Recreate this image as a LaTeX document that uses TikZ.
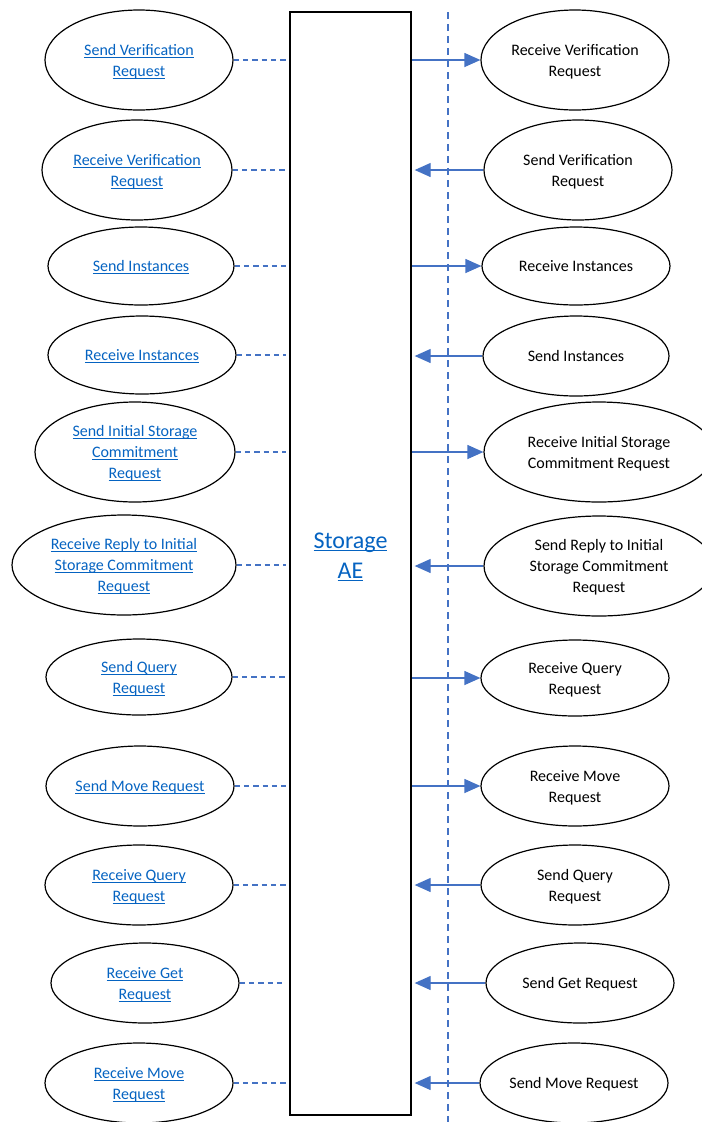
\documentclass[tikz,border=0pt]{standalone}
\usepackage{fontspec}
\setmainfont{Carlito}
\usetikzlibrary{shapes.geometric,arrows.meta}
\definecolor{lnk}{HTML}{0563C1}
\definecolor{acc}{HTML}{4472C4}
\newcommand\lk[1]{\mbox{#1}\llap{\underline{\hphantom{#1}}}}
\begin{document}
\begin{tikzpicture}[x=0.75pt,y=-0.75pt,
  ell/.style={ellipse, draw=black, line width=0.9pt, inner sep=0pt, align=center,
    text depth=-0.5pt, font=\fontsize{12}{15.75}\selectfont},
  le/.style 2 args={ell, minimum width={#1*1.5pt}, minimum height={#2*1.5pt}},
  lt/.style={text=lnk},
  conn/.style={draw=acc, dash pattern=on 4pt off 3pt, line width=0.8pt},
  arr/.style={draw=acc, line width=0.9pt, -{Triangle[length=12pt,width=10.5pt,fill=acc]}},
  vline/.style={draw=acc, dash pattern=on 5.5pt off 3.5pt, line width=1.5pt}]
\useasboundingbox (0,0) rectangle (702,1122);
\clip (0,0) rectangle (702,1122);

% central box
\node[draw=black, line width=1.5pt, minimum width=90.75pt, minimum height=827.25pt, inner sep=0pt] (ae) at (350.5,563.5) {};
\node[align=center, text=lnk, font=\fontsize{18}{23}\selectfont] (aelabel) at (350.5,557) {\lk{Storage}\\\lk{AE}};

% vertical dashed line
\coordinate (vt) at (448,12);
\coordinate (vb) at (448,1122);
\draw[vline] (vt) -- (vb);

\coordinate (xl) at (286,0);

% left ellipses
\node[le={94}{50}, lt] (L1) at (139,60) {\lk{Send Verification}\\\lk{Request}};
\node[le={95}{50}, lt] (L2) at (137,170) {\lk{Receive Verification}\\\lk{Request}};
\node[le={93}{39}, lt] (L3) at (141,266) {\lk{Send Instances}};
\node[le={94}{39}, lt] (L4) at (142,355) {\lk{Receive Instances}};
\node[le={100}{50}, lt] (L5) at (135,452) {\lk{Send Initial Storage}\\\lk{Commitment}\\\lk{Request}};
\node[le={112}{50}, lt] (L6) at (124,565) {\lk{Receive Reply to Initial}\\\lk{Storage Commitment}\\\lk{Request}};
\node[le={93}{38}, lt] (L7) at (139,677) {\lk{Send Query}\\\lk{Request}};
\node[le={94}{40}, lt] (L8) at (140,786) {\lk{Send Move Request}};
\node[le={94}{40}, lt] (L9) at (139,885) {\lk{Receive Query}\\\lk{Request}};
\node[le={94}{40}, lt] (L10) at (145,983) {\lk{Receive Get}\\\lk{Request}};
\node[le={94}{40}, lt] (L11) at (139,1083) {\lk{Receive Move}\\\lk{Request}};

\foreach \n in {L1,L2,L3,L4,L5,L6,L7,L8,L9,L10,L11}
  \draw[conn] (\n.east) -- (\n.east -| xl);

% right ellipses
\node[le={94}{50}] (R1) at (575,60) {Receive Verification\\Request};
\node[le={94}{50}] (R2) at (578,170) {Send Verification\\Request};
\node[le={94}{39}] (R3) at (576,266) {Receive Instances};
\node[le={93}{40}] (R4) at (576,356) {Send Instances};
\node[le={115}{50}] (R5) at (599,452) {Receive Initial Storage\\Commitment Request};
\node[le={115}{50}] (R6) at (599,566) {Send Reply to Initial\\Storage Commitment\\Request};
\node[le={94}{38}] (R7) at (575,678) {Receive Query\\Request};
\node[le={94}{40}] (R8) at (575,786) {Receive Move\\Request};
\node[le={94}{40}] (R9) at (575,885) {Send Query\\Request};
\node[le={94}{40}] (R10) at (580,983) {Send Get Request};
\node[le={94}{40}] (R11) at (574,1083) {Send Move Request};

% arrows out of the box
\foreach \n in {R1,R3,R5,R7,R8}
  \draw[arr] (ae.east |- \n.west) -- (\n.west);
% arrows into the box
\foreach \n in {R2,R4,R6,R9,R10,R11}
  \draw[arr] (\n.west) -- ([xshift=2pt]ae.east |- \n.west);
\end{tikzpicture}
\end{document}
